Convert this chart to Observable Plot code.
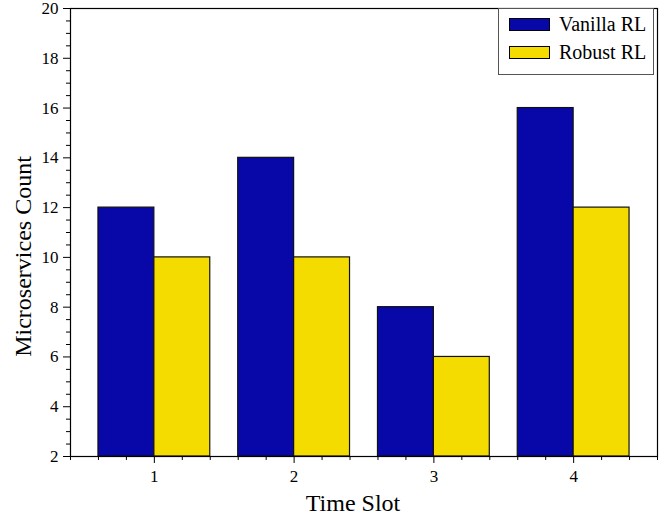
<!DOCTYPE html>
<html>
<head>
<meta charset="utf-8">
<script src="https://cdn.jsdelivr.net/npm/d3@7"></script>
<script src="https://cdn.jsdelivr.net/npm/@observablehq/plot@0.6"></script>
<style>
  html, body { margin: 0; padding: 0; background: #fff; }
  #wrap { position: relative; width: 664px; height: 519px; font-family: "Liberation Serif", "Times New Roman", serif; }
  #wrap svg { position: absolute; left: 0; top: 0; }
  .legend { position: absolute; left: 498px; top: 8px; width: 156px; height: 67px; box-sizing: border-box;
            border: 1px solid #555; background: #fff; }
  .legend .item { position: absolute; left: 10px; height: 20px; display: flex; align-items: center; }
  .legend .sw { width: 41px; height: 13px; border: 1px solid #000; box-sizing: border-box; margin-right: 9px; }
  .legend .lab { font-size: 20px; color: #000; line-height: 20px; }
</style>
</head>
<body>
<div id="wrap"></div>
<script>
const slots = [1, 2, 3, 4];
const vanillaRL = [12, 14, 8, 16];
const robustRL = [10, 10, 6, 12];
const seriesNames = ["Vanilla RL", "Robust RL"];
const seriesColors = ["#0808a8", "#f5dc00"];
const yTicks = [2, 4, 6, 8, 10, 12, 14, 16, 18, 20];
const xTitle = ["Time Slot"];
const yTitle = ["Microservices Count"];

const barW = 0.4;
const data = [];
slots.forEach((s, i) => {
  data.push({slot: s, series: seriesNames[0], value: vanillaRL[i], off: -barW});
  data.push({slot: s, series: seriesNames[1], value: robustRL[i], off: 0});
});

const xMinor = d3.range(2, 24).map(i => i / 5).filter(v => !slots.includes(v));
const yMinor = d3.range(4, 41).map(i => i / 2).filter(v => !yTicks.includes(v));
const serif = "'Liberation Serif', 'Times New Roman', serif";

const chart = Plot.plot({
  width: 664,
  height: 519,
  marginLeft: 70,
  marginRight: 7,
  marginTop: 8,
  marginBottom: 63,
  style: {fontFamily: serif, fontSize: "17px", background: "#fff", color: "#000"},
  x: {domain: [0.4, 4.6]},
  y: {domain: [2, 20]},
  color: {domain: seriesNames, range: seriesColors},
  marks: [
    Plot.rect(data, {
      x1: d => d.slot + d.off,
      x2: d => d.slot + d.off + barW,
      y1: 2,
      y2: "value",
      fill: "series",
      stroke: "#111",
      strokeWidth: 1.2
    }),
    Plot.frame({stroke: "#000", strokeWidth: 1.2}),
    Plot.axisY({ticks: yTicks, tickSize: 7, text: null, label: null, stroke: "#000"}),
    Plot.axisY({ticks: yMinor, tickSize: 4, text: null, label: null, stroke: "#000"}),
    Plot.axisX({ticks: slots, tickSize: 7, text: null, label: null, stroke: "#000"}),
    Plot.axisX({ticks: xMinor, tickSize: 4, text: null, label: null, stroke: "#000"}),
    Plot.text(yTicks, {y: d => d, text: d => String(d), frameAnchor: "left", textAnchor: "end", lineAnchor: "middle", dx: -12, fontSize: 17, fontFamily: serif, fill: "#000"}),
    Plot.text(slots, {x: d => d, text: d => String(d), frameAnchor: "bottom", textAnchor: "middle", lineAnchor: "middle", dy: 20, fontSize: 17, fontFamily: serif, fill: "#000"}),
    Plot.text(xTitle, {text: d => d, frameAnchor: "bottom", textAnchor: "middle", dx: -11, dy: 54, fontSize: 24, fontFamily: serif, fill: "#000"}),
    Plot.text(yTitle, {text: d => d, frameAnchor: "left", textAnchor: "middle", lineAnchor: "middle", dx: -47, dy: 24, rotate: -90, fontSize: 24, fontFamily: serif, fill: "#000"})
  ]
});

const wrap = document.getElementById("wrap");
wrap.appendChild(chart);

const legend = document.createElement("div");
legend.className = "legend";
seriesNames.forEach((name, i) => {
  const item = document.createElement("div");
  item.className = "item";
  item.style.top = (i === 0 ? 5 : 33) + "px";
  const sw = document.createElement("div");
  sw.className = "sw";
  sw.style.background = seriesColors[i];
  const lab = document.createElement("span");
  lab.className = "lab";
  lab.textContent = name;
  item.appendChild(sw);
  item.appendChild(lab);
  legend.appendChild(item);
});
wrap.appendChild(legend);
</script>
</body>
</html>
